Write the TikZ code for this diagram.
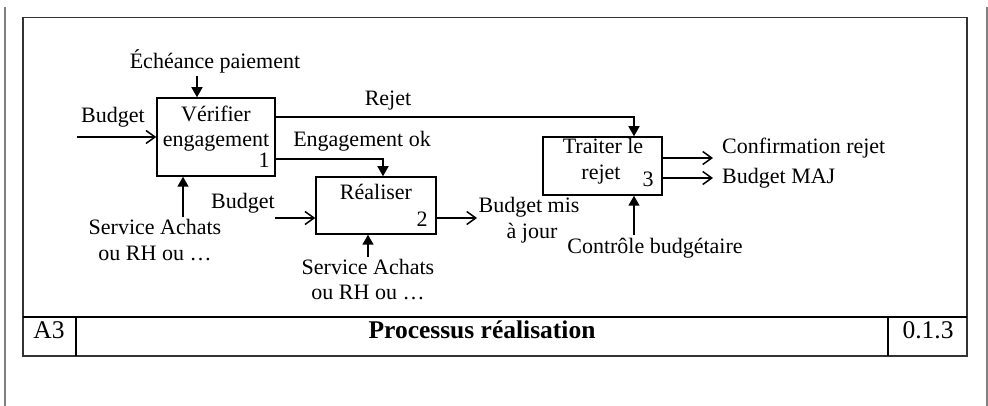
\documentclass[tikz,border=0pt]{standalone}
\usepackage{fontspec}
\setmainfont{Liberation Serif}
\usetikzlibrary{arrows.meta}
\begin{document}
\begin{tikzpicture}[x=1pt,y=-1pt,
  txt/.style={inner sep=0pt, anchor=base, font=\fontsize{22}{26}\selectfont},
  txtl/.style={txt, anchor=base west},
  ttl/.style={inner sep=0pt, anchor=base, font=\fontsize{25.5}{30}\selectfont},
  actbox/.style={draw, line width=1.5pt, inner sep=0pt},
  flow/.style={line width=1.5pt, -{Straight Barb[length=9pt,width=13pt,line width=1.5pt]}},
  ctrl/.style={line width=1.5pt, -{Triangle[length=10pt,width=11pt]}},
  frm/.style={line width=1.8pt, draw=black!80},
  sep/.style={line width=2.4pt, draw=black},
  side/.style={line width=1.3pt, draw=black!50}
]
\useasboundingbox (0,0) rectangle (988,406);
% side lines and frame
\draw[side] (5,7) -- (5,406);
\draw[side] (987,7) -- (987,406);
\draw[frm] (23,17.5) rectangle (967,356);
\draw[sep] (23,317) -- (967,317);
\draw[sep] (76,317) -- (76,356);
\draw[sep] (888,317) -- (888,356);
\node[ttl] (a3) at (49,338) {A3};
\node[ttl, font=\fontsize{25.5}{30}\selectfont\bfseries] (title) at (482,338) {Processus réalisation};
\node[ttl] (num) at (928,338) {0.1.3};

% activity boxes
\node[actbox, minimum width=118pt, minimum height=78pt] (B1) at (216,137) {};
\node[actbox, minimum width=120pt, minimum height=57pt] (B2) at (376,205.5) {};
\node[actbox, minimum width=119pt, minimum height=58pt] (B3) at (602.5,166) {};

\node[txt] (t1a) at (216,122) {Vérifier};
\node[txt] (t1b) at (216,147) {engagement};
\node[txt] (t1n) at (264,168) {1};
\node[txt] (t2a) at (376,200) {Réaliser};
\node[txt] (t2n) at (422,227) {2};
\node[txt] (t3a) at (603,154) {Traiter le};
\node[txt] (t3b) at (601,180) {rejet};
\node[txt] (t3n) at (648,187) {3};

% labels
\node[txt] (lech) at (215,69) {Échéance paiement};
\node[txt] (lbud1) at (113,123) {Budget};
\node[txt] (lrej) at (388,106) {Rejet};
\node[txt] (leng) at (362,147) {Engagement ok};
\node[txt] (ls1a) at (155,235) {Service Achats};
\node[txt] (ls1b) at (155,260) {ou RH ou …};
\node[txt] (lbud2) at (243,209) {Budget};
\node[txt] (ls2a) at (368,274) {Service Achats};
\node[txt] (ls2b) at (368,299) {ou RH ou …};
\node[txt] (lbm1) at (529,213) {Budget mis};
\node[txt] (lbm2) at (532,239) {à jour};
\node[txt] (lctl) at (655,254) {Contrôle budgétaire};
\node[txtl] (lconf) at (722,154) {Confirmation rejet};
\node[txtl] (lmaj) at (722,184) {Budget MAJ};

% connector coordinates
\coordinate (inB1) at (77,137);
\coordinate (ech) at (197,76);
\coordinate (r1) at (0,117);
\coordinate (r2) at (634,0);
\coordinate (e1) at (0,159);
\coordinate (e2) at (383,0);
\coordinate (s1) at (183,217);
\coordinate (in2) at (275,218);
\coordinate (s2) at (368,257);
\coordinate (o2) at (477,218);
\coordinate (s3) at (634,235);
\coordinate (o3a) at (713,158);
\coordinate (o3b) at (713,178);

% connectors
\draw[flow] (inB1) -- (B1.west);
\draw[ctrl] (ech) -- (ech |- B1.north);
\draw[ctrl] (B1.east |- r1) -| (r2 |- B3.north);
\draw[ctrl] (B1.east |- e1) -| (e2 |- B2.north);
\draw[ctrl] (s1) -- (s1 |- B1.south);
\draw[flow] (in2) -- (B2.west |- in2);
\draw[ctrl] (s2) -- (s2 |- B2.south);
\draw[flow] (B2.east |- o2) -- (o2);
\draw[ctrl] (s3) -- (s3 |- B3.south);
\draw[flow] (B3.east |- o3a) -- (o3a);
\draw[flow] (B3.east |- o3b) -- (o3b);
\end{tikzpicture}
\end{document}
